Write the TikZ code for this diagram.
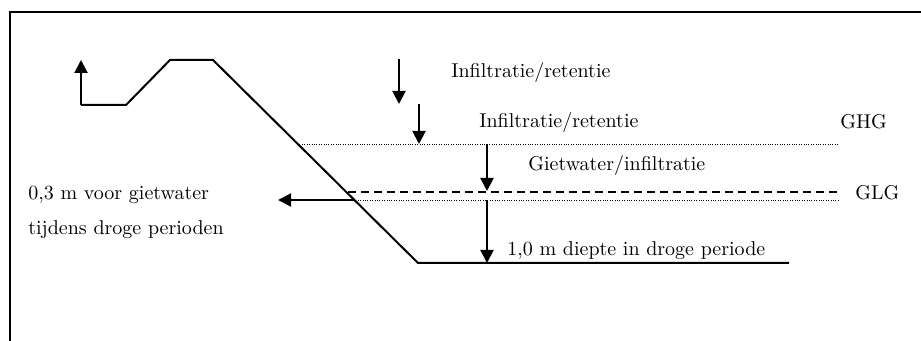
\documentclass[tikz,border=0pt]{standalone}
\usetikzlibrary{arrows.meta}
\begin{document}
\begin{tikzpicture}[
    x=0.5pt, y=-0.5pt,
    profile/.style={line width=1pt},
    flow/.style={-{Triangle[length=6.5pt,width=6.5pt]}, line width=1pt},
    highlevel/.style={line width=0.4pt, dash pattern=on 0.5pt off 0.7pt},
    lowlevel/.style={line width=0.8pt, dash pattern=on 4pt off 2.5pt},
    lbl/.style={anchor=west, inner sep=0pt}
]
    \useasboundingbox (0,0) rectangle (921,341);
    \draw[line width=0.9pt] (10,341) -- (10,12) -- (921,12);

    % profile points
    \coordinate (top) at (81,60);
    \coordinate (ditch) at (81,105);
    \coordinate (toe) at (126,105);
    \coordinate (crestL) at (170,60);
    \coordinate (crestR) at (213,60);
    \coordinate (bedL) at (418,263);
    \coordinate (bedR) at (789,263);

    \draw[flow] (ditch) -- (top);
    \draw[profile] (ditch) -- (toe) -- (crestL) -- (crestR) -- (bedL) -- (bedR);

    % water levels
    \coordinate (ghgL) at (302,144);
    \coordinate (ghgR) at (838,144);
    \coordinate (glgL) at (348,192);
    \coordinate (glgR) at (840,192);
    \coordinate (dryL) at (353,200);
    \coordinate (dryR) at (840,200);
    \draw[highlevel] (ghgL) -- (ghgR);
    \draw[lowlevel] (glgL) -- (glgR);
    \draw[highlevel] (dryL) -- (dryR);

    \node[lbl] (ghg) at (840,122) {GHG};
    \node[lbl] (glg) at (855,193) {GLG};

    % flows
    \coordinate (rain1) at (399,59);
    \coordinate (rain1e) at (399,104);
    \coordinate (rain2) at (419,104);
    \coordinate (rain2e) at (419,144);
    \coordinate (giet) at (487,144);
    \coordinate (giete) at (487,191);
    \coordinate (diep) at (487,200);
    \coordinate (diepe) at (487,263);
    \coordinate (uit) at (278,200);

    \draw[flow] (rain1) -- (rain1e);
    \draw[flow] (rain2) -- (rain2e);
    \draw[flow] (giet) -- (giete);
    \draw[flow] (diep) -- (diepe);
    \draw[flow] (dryL) -- (uit);

    \node[lbl] (infil1) at (451,73) {Infiltratie/retentie};
    \node[lbl] (infil2) at (479,123) {Infiltratie/retentie};
    \node[lbl] (gietw) at (528,166) {Gietwater/infiltratie};
    \node[lbl] (diepte) at (507,251) {1,0 m diepte in droge periode};
    \node[lbl] (voor) at (28,195) {0,3 m voor gietwater};
    \node[lbl] (tijdens) at (28,230) {tijdens droge perioden};
\end{tikzpicture}
\end{document}
